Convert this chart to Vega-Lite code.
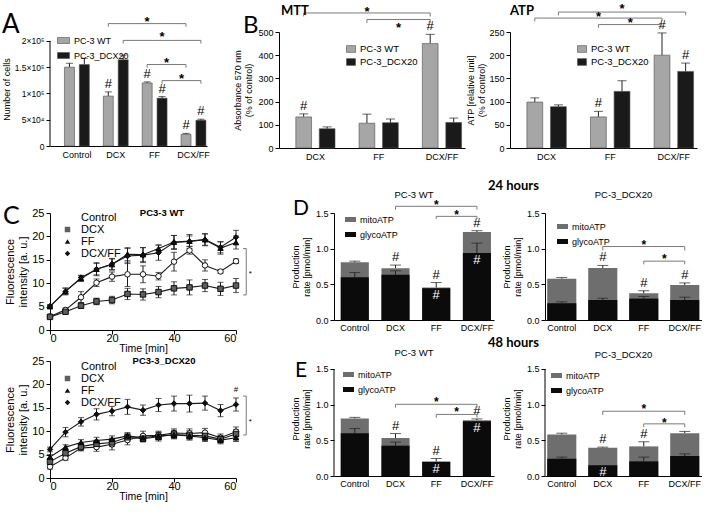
{
"$schema": "https://vega.github.io/schema/vega-lite/v6.json",
"background": "white",
"padding": {"left": 0, "top": 2, "right": 0, "bottom": 0},
"config": {
 "font": "Liberation Sans",
 "view": {"stroke": null},
 "axis": {"domainColor": "#000", "domainWidth": 1, "tickColor": "#000", "tickWidth": 1, "tickSize": 4, "labelColor": "#000", "titleColor": "#000", "labelFont": "Liberation Sans", "titleFont": "Liberation Sans", "titleFontWeight": "normal", "grid": false, "labelFontSize": 9, "titleFontSize": 9, "labelPadding": 2, "titlePadding": 4, "labelOverlap": false},
 "legend": {"labelFont": "Liberation Sans", "labelColor": "#000"},
 "title": {"font": "Liberation Sans", "color": "#000", "offset": 0},
 "text": {"font": "Liberation Sans", "color": "#000"}
},
"datasets": {
 "A": [
  {"cond":"Control","grp":"PC-3 WT","v":150000,"hi":157500,"sig":""},
  {"cond":"Control","grp":"PC-3_DCX20","v":155000,"hi":167000,"sig":""},
  {"cond":"DCX","grp":"PC-3 WT","v":95000,"hi":103000,"sig":"#"},
  {"cond":"DCX","grp":"PC-3_DCX20","v":164000,"hi":173000,"sig":""},
  {"cond":"FF","grp":"PC-3 WT","v":120000,"hi":122000,"sig":"#"},
  {"cond":"FF","grp":"PC-3_DCX20","v":91000,"hi":94000,"sig":"#"},
  {"cond":"DCX/FF","grp":"PC-3 WT","v":22000,"hi":24000,"sig":"#"},
  {"cond":"DCX/FF","grp":"PC-3_DCX20","v":49000,"hi":51000,"sig":"#"}
 ],
 "Abr": [
  {"x1":0.808,"x2":2.808,"y":233000,"yt":227000,"xs":1.808,"ys":242600},
  {"x1":1.192,"x2":3.192,"y":201000,"yt":195000,"xs":2.192,"ys":213900},
  {"x1":1.808,"x2":2.808,"y":155100,"yt":149000,"xs":2.308,"ys":164100},
  {"x1":2.192,"x2":3.192,"y":124500,"yt":118500,"xs":2.692,"ys":133500}
 ],
 "MTT": [
  {"cond":"DCX","grp":"PC-3 WT","v":134,"hi":147,"sig":"#"},
  {"cond":"DCX","grp":"PC-3_DCX20","v":83,"hi":91,"sig":""},
  {"cond":"FF","grp":"PC-3 WT","v":107,"hi":146,"sig":""},
  {"cond":"FF","grp":"PC-3_DCX20","v":109,"hi":125,"sig":""},
  {"cond":"DCX/FF","grp":"PC-3 WT","v":450,"hi":490,"sig":"#"},
  {"cond":"DCX/FF","grp":"PC-3_DCX20","v":110,"hi":129,"sig":""}
 ],
 "MTTbr": [
  {"x1":-0.186,"x2":1.814,"y":582,"yt":567,"xs":0.814,"ys":600},
  {"x1":0.814,"x2":1.814,"y":554,"yt":539,"xs":1.314,"ys":531}
 ],
 "ATP": [
  {"cond":"DCX","grp":"PC-3 WT","v":99,"hi":108,"sig":""},
  {"cond":"DCX","grp":"PC-3_DCX20","v":89,"hi":93,"sig":""},
  {"cond":"FF","grp":"PC-3 WT","v":67,"hi":79,"sig":"#"},
  {"cond":"FF","grp":"PC-3_DCX20","v":122,"hi":145,"sig":""},
  {"cond":"DCX/FF","grp":"PC-3 WT","v":200,"hi":248,"sig":"#"},
  {"cond":"DCX/FF","grp":"PC-3_DCX20","v":165,"hi":183,"sig":"#"}
 ],
 "ATPbr": [
  {"x1":0.186,"x2":2.186,"y":293,"yt":286,"xs":1.186,"ys":307},
  {"x1":-0.186,"x2":1.814,"y":280,"yt":273,"xs":0.814,"ys":289},
  {"x1":0.814,"x2":1.814,"y":266,"yt":259,"xs":1.314,"ys":276}
 ],
 "C1": [
  {"t":0,"grp":"Control","v":2.9,"e":0.3},{"t":5,"grp":"Control","v":4.3,"e":0.4},{"t":10,"grp":"Control","v":7.0,"e":1.2},{"t":15,"grp":"Control","v":10.1,"e":0.8},{"t":20,"grp":"Control","v":11.4,"e":1.0},{"t":25,"grp":"Control","v":11.9,"e":2.6},{"t":30,"grp":"Control","v":11.9,"e":1.8},{"t":35,"grp":"Control","v":11.5,"e":0.8},{"t":40,"grp":"Control","v":14.6,"e":2.0},{"t":45,"grp":"Control","v":17.0,"e":0.8},{"t":50,"grp":"Control","v":13.8,"e":1.2},{"t":55,"grp":"Control","v":12.5,"e":0.4},{"t":60,"grp":"Control","v":14.7,"e":0.5},
  {"t":0,"grp":"DCX","v":2.8,"e":0.3},{"t":5,"grp":"DCX","v":3.9,"e":0.4},{"t":10,"grp":"DCX","v":5.2,"e":0.6},{"t":15,"grp":"DCX","v":6.1,"e":0.7},{"t":20,"grp":"DCX","v":6.4,"e":0.8},{"t":25,"grp":"DCX","v":7.7,"e":1.2},{"t":30,"grp":"DCX","v":7.6,"e":1.2},{"t":35,"grp":"DCX","v":8.1,"e":1.2},{"t":40,"grp":"DCX","v":8.9,"e":1.4},{"t":45,"grp":"DCX","v":9.1,"e":1.6},{"t":50,"grp":"DCX","v":9.5,"e":1.3},{"t":55,"grp":"DCX","v":8.8,"e":1.4},{"t":60,"grp":"DCX","v":9.5,"e":1.5},
  {"t":0,"grp":"FF","v":5.0,"e":0.3},{"t":5,"grp":"FF","v":8.3,"e":0.7},{"t":10,"grp":"FF","v":11.0,"e":0.6},{"t":15,"grp":"FF","v":13.0,"e":1.2},{"t":20,"grp":"FF","v":14.0,"e":1.2},{"t":25,"grp":"FF","v":16.2,"e":1.4},{"t":30,"grp":"FF","v":16.1,"e":1.5},{"t":35,"grp":"FF","v":17.4,"e":0.8},{"t":40,"grp":"FF","v":18.8,"e":1.4},{"t":45,"grp":"FF","v":19.0,"e":1.1},{"t":50,"grp":"FF","v":19.3,"e":1.2},{"t":55,"grp":"FF","v":17.5,"e":1.3},{"t":60,"grp":"FF","v":18.7,"e":1.4},
  {"t":0,"grp":"DCX/FF","v":5.1,"e":0.3},{"t":5,"grp":"DCX/FF","v":8.2,"e":0.7},{"t":10,"grp":"DCX/FF","v":11.2,"e":0.5},{"t":15,"grp":"DCX/FF","v":13.0,"e":1.4},{"t":20,"grp":"DCX/FF","v":14.1,"e":1.2},{"t":25,"grp":"DCX/FF","v":15.8,"e":1.6},{"t":30,"grp":"DCX/FF","v":16.0,"e":1.6},{"t":35,"grp":"DCX/FF","v":16.5,"e":1.6},{"t":40,"grp":"DCX/FF","v":18.7,"e":1.5},{"t":45,"grp":"DCX/FF","v":18.9,"e":1.5},{"t":50,"grp":"DCX/FF","v":19.3,"e":1.3},{"t":55,"grp":"DCX/FF","v":17.7,"e":1.2},{"t":60,"grp":"DCX/FF","v":19.8,"e":1.5}
 ],
 "C2": [
  {"t":0,"grp":"Control","v":2.4,"e":0.5},{"t":5,"grp":"Control","v":4.3,"e":0.5},{"t":10,"grp":"Control","v":6.4,"e":0.6},{"t":15,"grp":"Control","v":6.6,"e":0.9},{"t":20,"grp":"Control","v":7.2,"e":1.2},{"t":25,"grp":"Control","v":8.1,"e":1.0},{"t":30,"grp":"Control","v":9.0,"e":1.0},{"t":35,"grp":"Control","v":9.1,"e":0.9},{"t":40,"grp":"Control","v":9.6,"e":0.9},{"t":45,"grp":"Control","v":9.5,"e":1.0},{"t":50,"grp":"Control","v":9.7,"e":0.9},{"t":55,"grp":"Control","v":8.6,"e":0.8},{"t":60,"grp":"Control","v":9.9,"e":1.0},
  {"t":0,"grp":"DCX","v":3.5,"e":0.6},{"t":5,"grp":"DCX","v":5.3,"e":0.5},{"t":10,"grp":"DCX","v":6.7,"e":0.7},{"t":15,"grp":"DCX","v":7.3,"e":0.8},{"t":20,"grp":"DCX","v":7.6,"e":0.9},{"t":25,"grp":"DCX","v":8.7,"e":0.8},{"t":30,"grp":"DCX","v":8.4,"e":0.7},{"t":35,"grp":"DCX","v":8.8,"e":0.9},{"t":40,"grp":"DCX","v":9.3,"e":0.9},{"t":45,"grp":"DCX","v":9.1,"e":1.0},{"t":50,"grp":"DCX","v":9.0,"e":0.9},{"t":55,"grp":"DCX","v":8.3,"e":0.8},{"t":60,"grp":"DCX","v":9.4,"e":0.9},
  {"t":0,"grp":"FF","v":4.5,"e":0.5},{"t":5,"grp":"FF","v":6.6,"e":0.5},{"t":10,"grp":"FF","v":7.6,"e":0.6},{"t":15,"grp":"FF","v":8.0,"e":0.7},{"t":20,"grp":"FF","v":8.3,"e":0.7},{"t":25,"grp":"FF","v":9.0,"e":0.7},{"t":30,"grp":"FF","v":8.6,"e":0.7},{"t":35,"grp":"FF","v":9.0,"e":0.8},{"t":40,"grp":"FF","v":9.2,"e":0.8},{"t":45,"grp":"FF","v":9.0,"e":0.8},{"t":50,"grp":"FF","v":8.6,"e":0.8},{"t":55,"grp":"FF","v":8.1,"e":0.8},{"t":60,"grp":"FF","v":8.6,"e":0.8},
  {"t":0,"grp":"DCX/FF","v":6.1,"e":0.5},{"t":5,"grp":"DCX/FF","v":9.8,"e":1.0},{"t":10,"grp":"DCX/FF","v":12.0,"e":0.9},{"t":15,"grp":"DCX/FF","v":13.6,"e":1.2},{"t":20,"grp":"DCX/FF","v":14.3,"e":1.0},{"t":25,"grp":"DCX/FF","v":15.2,"e":1.6},{"t":30,"grp":"DCX/FF","v":14.5,"e":1.1},{"t":35,"grp":"DCX/FF","v":15.6,"e":1.4},{"t":40,"grp":"DCX/FF","v":15.9,"e":1.6},{"t":45,"grp":"DCX/FF","v":15.9,"e":1.8},{"t":50,"grp":"DCX/FF","v":16.0,"e":1.5},{"t":55,"grp":"DCX/FF","v":14.4,"e":1.3},{"t":60,"grp":"DCX/FF","v":15.7,"e":1.4}
 ],
 "C1br": [{"xb":63.3,"xt":62.3,"ya":7.5,"yb":17.4,"xs":64.6,"ys":12.4,"s":"*"}],
 "C2br": [{"xb":63.3,"xt":62.3,"ya":9.2,"yb":17.5,"xs":64.6,"ys":12.4,"s":"*"}],
 "C2sig": [{"t":60,"v":18.0,"s":"#"}],
 "Dl": [
  {"cond":"Control","total":0.81,"thi":0.825,"glyco":0.60,"ghi":0.665,"sig":"","sin":""},
  {"cond":"DCX","total":0.727,"thi":0.77,"glyco":0.633,"ghi":0.69,"sig":"#","sin":""},
  {"cond":"FF","total":0.455,"thi":0.525,"glyco":0.445,"ghi":null,"sig":"#","sin":"#"},
  {"cond":"DCX/FF","total":1.233,"thi":1.252,"glyco":0.938,"ghi":1.078,"sig":"#","sin":"#"}
 ],
 "Dr": [
  {"cond":"Control","total":0.58,"thi":0.595,"glyco":0.235,"ghi":0.255,"sig":"","sin":""},
  {"cond":"DCX","total":0.73,"thi":0.765,"glyco":0.28,"ghi":0.305,"sig":"#","sin":""},
  {"cond":"FF","total":0.375,"thi":0.41,"glyco":0.30,"ghi":0.33,"sig":"#","sin":""},
  {"cond":"DCX/FF","total":0.49,"thi":0.52,"glyco":0.28,"ghi":0.32,"sig":"#","sin":""}
 ],
 "El": [
  {"cond":"Control","total":0.807,"thi":0.822,"glyco":0.60,"ghi":0.665,"sig":"","sin":""},
  {"cond":"DCX","total":0.533,"thi":0.595,"glyco":0.425,"ghi":0.475,"sig":"#","sin":""},
  {"cond":"FF","total":0.203,"thi":0.245,"glyco":0.198,"ghi":null,"sig":"#","sin":"#"},
  {"cond":"DCX/FF","total":0.783,"thi":0.80,"glyco":0.768,"ghi":null,"sig":"#","sin":"#"}
 ],
 "Er": [
  {"cond":"Control","total":0.582,"thi":0.60,"glyco":0.242,"ghi":0.265,"sig":"","sin":""},
  {"cond":"DCX","total":0.396,"thi":0.405,"glyco":0.149,"ghi":null,"sig":"#","sin":"#"},
  {"cond":"FF","total":0.415,"thi":0.48,"glyco":0.205,"ghi":0.265,"sig":"#","sin":""},
  {"cond":"DCX/FF","total":0.60,"thi":0.625,"glyco":0.28,"ghi":0.31,"sig":"","sin":""}
 ],
 "Dlbr": [{"x1":1,"x2":3,"y":1.594,"yt":1.547,"xs":2,"ys":1.65},{"x1":2,"x2":3,"y":1.453,"yt":1.416,"xs":2.5,"ys":1.52}],
 "Drbr": [{"x1":1,"x2":3,"y":1.03,"yt":0.975,"xs":2,"ys":1.09},{"x1":2,"x2":3,"y":0.825,"yt":0.78,"xs":2.5,"ys":0.9}],
 "Elbr": [{"x1":1,"x2":3,"y":1.005,"yt":0.958,"xs":2,"ys":1.075},{"x1":2,"x2":3,"y":0.863,"yt":0.816,"xs":2.5,"ys":0.934}],
 "Erbr": [{"x1":1,"x2":3,"y":0.908,"yt":0.857,"xs":2,"ys":0.978},{"x1":2,"x2":3,"y":0.731,"yt":0.685,"xs":2.5,"ys":0.79}],
 "none": [],
 "one": [{}]
},
"resolve": {"scale": {"fill": "independent", "shape": "independent", "xOffset": "independent"}, "legend": {"fill": "independent", "shape": "independent"}},
"spacing": -17,
"vconcat": [
 {"bounds": "flush", "spacing": 0,
  "resolve": {"scale": {"fill": "independent", "shape": "independent", "xOffset": "independent"}, "legend": {"fill": "independent", "shape": "independent"}},
  "hconcat": [
  {"width": 50, "height": 165, "data": {"name": "none"}, "mark": "point"},
  {"width": 157, "height": 114,
   "title": {"text": "A", "anchor": "start", "frame": "group", "font": "Lato", "fontSize": 26, "fontWeight": "normal", "dx": -48, "dy": 26},
   "resolve": {"scale": {"x": "independent"}},
   "layer": [
    {"data": {"name": "A"},
     "encoding": {
      "x": {"field": "cond", "type": "nominal", "sort": ["Control","DCX","FF","DCX/FF"], "scale": {"paddingInner": 0.36, "paddingOuter": 0.2, "align": 0.93}, "axis": {"title": null, "labelAngle": 0, "ticks": false, "domain": true, "labelPadding": 4, "labelFontSize": 9}},
      "xOffset": {"field": "grp", "type": "nominal", "sort": ["PC-3 WT","PC-3_DCX20"], "scale": {"paddingInner": 0.33, "paddingOuter": 0}}
     },
     "layer": [
      {"mark": {"type": "rule", "color": "#222"}, "encoding": {"y": {"field": "v", "type": "quantitative", "scale": {"domain": [0,217000], "nice": false}, "axis": {"title": "Number of cells", "domain": false, "values": [0,50000,100000,150000,200000], "labelExpr": "datum.value == 0 ? '0' : datum.value == 50000 ? '5×10⁴' : datum.value == 100000 ? '1×10⁵' : datum.value == 150000 ? '1.5×10⁵' : '2×10⁵'", "labelFontSize": 8.5, "titlePadding": 3, "labelOverlap": false}}, "y2": {"field": "hi"}}},
      {"mark": {"type": "tick", "color": "#222", "orient": "horizontal", "size": 7, "thickness": 1}, "encoding": {"y": {"field": "hi", "type": "quantitative", "scale": {"domain": [0,217000], "nice": false}, "axis": {"title": "Number of cells", "domain": false, "values": [0,50000,100000,150000,200000], "labelExpr": "datum.value == 0 ? '0' : datum.value == 50000 ? '5×10⁴' : datum.value == 100000 ? '1×10⁵' : datum.value == 150000 ? '1.5×10⁵' : '2×10⁵'", "labelFontSize": 8.5, "titlePadding": 3, "labelOverlap": false}}}},
      {"mark": {"type": "bar", "stroke": "#4d4d4d", "strokeWidth": 0.6}, "encoding": {"y": {"field": "v", "type": "quantitative", "scale": {"domain": [0,217000], "nice": false}, "axis": {"title": "Number of cells", "domain": false, "values": [0,50000,100000,150000,200000], "labelExpr": "datum.value == 0 ? '0' : datum.value == 50000 ? '5×10⁴' : datum.value == 100000 ? '1×10⁵' : datum.value == 150000 ? '1.5×10⁵' : '2×10⁵'", "labelFontSize": 8.5, "titlePadding": 3, "labelOverlap": false}},
        "fill": {"field": "grp", "type": "nominal", "scale": {"domain": ["PC-3 WT","PC-3_DCX20"], "range": ["#a6a6a6","#1a1a1a"]}, "legend": {"title": null, "orient": "none", "legendX": 7, "legendY": 2, "symbolType": "M-1,-0.5H1V0.5H-1Z", "symbolSize": 144, "labelFontSize": 9, "rowPadding": 3, "labelOffset": 4, "symbolStrokeColor": "#4d4d4d", "symbolStrokeWidth": 0.6}}}},
      {"mark": {"type": "text", "baseline": "bottom", "dy": -1, "fontSize": 13}, "encoding": {"y": {"field": "hi", "type": "quantitative", "scale": {"domain": [0,217000], "nice": false}, "axis": {"title": "Number of cells", "domain": false, "values": [0,50000,100000,150000,200000], "labelExpr": "datum.value == 0 ? '0' : datum.value == 50000 ? '5×10⁴' : datum.value == 100000 ? '1×10⁵' : datum.value == 150000 ? '1.5×10⁵' : '2×10⁵'", "labelFontSize": 8.5, "titlePadding": 3, "labelOverlap": false}}, "text": {"field": "sig"}}}
     ]},
    {"data": {"name": "Abr"},
     "encoding": {"y": {"field": "y", "type": "quantitative", "scale": {"domain": [0,217000], "nice": false}, "axis": {"title": "Number of cells", "domain": false, "values": [0,50000,100000,150000,200000], "labelExpr": "datum.value == 0 ? '0' : datum.value == 50000 ? '5×10⁴' : datum.value == 100000 ? '1×10⁵' : datum.value == 150000 ? '1.5×10⁵' : '2×10⁵'", "labelFontSize": 8.5, "titlePadding": 3, "labelOverlap": false}}},
     "layer": [
      {"mark": {"type": "rule", "color": "#7a7a7a"}, "encoding": {"x": {"field": "x1", "type": "quantitative", "scale": {"domain": [-0.692,3.348], "nice": false, "zero": false}, "axis": null}, "x2": {"field": "x2"}}},
      {"mark": {"type": "rule", "color": "#7a7a7a"}, "encoding": {"x": {"field": "x1", "type": "quantitative", "scale": {"domain": [-0.692,3.348], "nice": false, "zero": false}, "axis": null}, "y2": {"field": "yt"}}},
      {"mark": {"type": "rule", "color": "#7a7a7a"}, "encoding": {"x": {"field": "x2", "type": "quantitative", "scale": {"domain": [-0.692,3.348], "nice": false, "zero": false}, "axis": null}, "y2": {"field": "yt"}}},
      {"mark": {"type": "text", "text": "*", "fontSize": 13, "fontWeight": "bold", "baseline": "middle", "dy": 3}, "encoding": {"x": {"field": "xs", "type": "quantitative", "scale": {"domain": [-0.692,3.348], "nice": false, "zero": false}, "axis": null}, "y": {"field": "ys", "type": "quantitative", "scale": {"domain": [0,217000], "nice": false}, "axis": {"title": "Number of cells", "domain": false, "values": [0,50000,100000,150000,200000], "labelExpr": "datum.value == 0 ? '0' : datum.value == 50000 ? '5×10⁴' : datum.value == 100000 ? '1×10⁵' : datum.value == 150000 ? '1.5×10⁵' : '2×10⁵'", "labelFontSize": 8.5, "titlePadding": 3, "labelOverlap": false}}}}
     ]},
    {"data": {"name": "one"}, "mark": {"type": "rule", "color": "#000", "strokeWidth": 1}, "encoding": {"x": {"datum": -0.692, "type": "quantitative", "scale": {"domain": [-0.692,3.348], "nice": false, "zero": false}, "axis": null}, "y": {"datum": 0, "type": "quantitative", "scale": {"domain": [0,217000], "nice": false}, "axis": {"title": "Number of cells", "domain": false, "values": [0,50000,100000,150000,200000], "labelExpr": "datum.value == 0 ? '0' : datum.value == 50000 ? '5×10⁴' : datum.value == 100000 ? '1×10⁵' : datum.value == 150000 ? '1.5×10⁵' : '2×10⁵'", "labelFontSize": 8.5, "titlePadding": 3, "labelOverlap": false}}, "y2": {"datum": 200000}}}
   ]},
  {"width": 72, "height": 116, "data": {"name": "none"}, "mark": "point",
   "title": {"text": "B", "anchor": "start", "frame": "group", "font": "Lato", "fontSize": 24, "fontWeight": "normal", "dx": 36, "dy": 10}},
  {"width": 186, "height": 116,
   "title": {"text": "MTT", "anchor": "start", "frame": "group", "font": "Lato", "fontSize": 13, "fontWeight": "bold", "dx": 2, "dy": 16},
   "resolve": {"scale": {"x": "independent"}},
   "layer": [
    {"data": {"name": "MTT"},
     "encoding": {
      "x": {"field": "cond", "type": "nominal", "sort": ["DCX","FF","DCX/FF"], "scale": {"paddingInner": 0.38, "paddingOuter": 0.16, "align": 0.83}, "axis": {"title": null, "labelAngle": 0, "ticks": false, "domain": true, "labelPadding": 4}},
      "xOffset": {"field": "grp", "type": "nominal", "sort": ["PC-3 WT","PC-3_DCX20"], "scale": {"paddingInner": 0.33, "paddingOuter": 0}}
     },
     "layer": [
      {"mark": {"type": "rule", "color": "#222"}, "encoding": {"y": {"field": "v", "type": "quantitative", "scale": {"domain": [0,500], "nice": false}, "axis": {"title": ["Absorbance 570 nm","(% of control)"], "values": [0,100,200,300,400,500], "labelOverlap": false}}, "y2": {"field": "hi"}}},
      {"mark": {"type": "tick", "color": "#222", "orient": "horizontal", "size": 9, "thickness": 1}, "encoding": {"y": {"field": "hi", "type": "quantitative", "scale": {"domain": [0,500], "nice": false}, "axis": {"title": ["Absorbance 570 nm","(% of control)"], "values": [0,100,200,300,400,500], "labelOverlap": false}}}},
      {"mark": {"type": "bar", "stroke": "#4d4d4d", "strokeWidth": 0.6}, "encoding": {"y": {"field": "v", "type": "quantitative", "scale": {"domain": [0,500], "nice": false}, "axis": {"title": ["Absorbance 570 nm","(% of control)"], "values": [0,100,200,300,400,500], "labelOverlap": false}},
        "fill": {"field": "grp", "type": "nominal", "scale": {"domain": ["PC-3 WT","PC-3_DCX20"], "range": ["#a6a6a6","#1a1a1a"]}, "legend": {"title": null, "orient": "none", "legendX": 67, "legendY": 12, "symbolType": "M-1,-0.75H1V0.75H-1Z", "symbolSize": 81, "labelFontSize": 9.5, "rowPadding": 3, "labelOffset": 4, "symbolStrokeColor": "#4d4d4d", "symbolStrokeWidth": 0.6}}}},
      {"mark": {"type": "text", "baseline": "bottom", "dy": -1, "fontSize": 13}, "encoding": {"y": {"field": "hi", "type": "quantitative", "scale": {"domain": [0,500], "nice": false}, "axis": {"title": ["Absorbance 570 nm","(% of control)"], "values": [0,100,200,300,400,500], "labelOverlap": false}}, "text": {"field": "sig"}}}
     ]},
    {"data": {"name": "MTTbr"},
     "encoding": {"y": {"field": "y", "type": "quantitative", "scale": {"domain": [0,500], "nice": false}, "axis": {"title": ["Absorbance 570 nm","(% of control)"], "values": [0,100,200,300,400,500], "labelOverlap": false}}},
     "layer": [
      {"mark": {"type": "rule", "color": "#7a7a7a"}, "encoding": {"x": {"field": "x1", "type": "quantitative", "scale": {"domain": [-0.576,2.364], "nice": false, "zero": false}, "axis": null}, "x2": {"field": "x2"}}},
      {"mark": {"type": "rule", "color": "#7a7a7a"}, "encoding": {"x": {"field": "x1", "type": "quantitative", "scale": {"domain": [-0.576,2.364], "nice": false, "zero": false}, "axis": null}, "y2": {"field": "yt"}}},
      {"mark": {"type": "rule", "color": "#7a7a7a"}, "encoding": {"x": {"field": "x2", "type": "quantitative", "scale": {"domain": [-0.576,2.364], "nice": false, "zero": false}, "axis": null}, "y2": {"field": "yt"}}},
      {"mark": {"type": "text", "text": "*", "fontSize": 13, "fontWeight": "bold", "baseline": "middle", "dy": 3}, "encoding": {"x": {"field": "xs", "type": "quantitative", "scale": {"domain": [-0.576,2.364], "nice": false, "zero": false}, "axis": null}, "y": {"field": "ys", "type": "quantitative", "scale": {"domain": [0,500], "nice": false}, "axis": {"title": ["Absorbance 570 nm","(% of control)"], "values": [0,100,200,300,400,500], "labelOverlap": false}}}}
     ]}
   ]},
  {"width": 45, "height": 116, "data": {"name": "none"}, "mark": "point"},
  {"width": 187, "height": 116,
   "title": {"text": "ATP", "anchor": "start", "frame": "group", "font": "Lato", "fontSize": 13, "fontWeight": "bold", "dx": 0, "dy": 19},
   "resolve": {"scale": {"x": "independent"}},
   "layer": [
    {"data": {"name": "ATP"},
     "encoding": {
      "x": {"field": "cond", "type": "nominal", "sort": ["DCX","FF","DCX/FF"], "scale": {"paddingInner": 0.38, "paddingOuter": 0.16, "align": 0.83}, "axis": {"title": null, "labelAngle": 0, "ticks": false, "domain": true, "labelPadding": 4}},
      "xOffset": {"field": "grp", "type": "nominal", "sort": ["PC-3 WT","PC-3_DCX20"], "scale": {"paddingInner": 0.33, "paddingOuter": 0}}
     },
     "layer": [
      {"mark": {"type": "rule", "color": "#222"}, "encoding": {"y": {"field": "v", "type": "quantitative", "scale": {"domain": [0,250], "nice": false}, "axis": {"title": ["ATP [relative unit]","(% of control)"], "values": [0,50,100,150,200,250], "titlePadding": 2, "labelOverlap": false}}, "y2": {"field": "hi"}}},
      {"mark": {"type": "tick", "color": "#222", "orient": "horizontal", "size": 9, "thickness": 1}, "encoding": {"y": {"field": "hi", "type": "quantitative", "scale": {"domain": [0,250], "nice": false}, "axis": {"title": ["ATP [relative unit]","(% of control)"], "values": [0,50,100,150,200,250], "titlePadding": 2, "labelOverlap": false}}}},
      {"mark": {"type": "bar", "stroke": "#4d4d4d", "strokeWidth": 0.6}, "encoding": {"y": {"field": "v", "type": "quantitative", "scale": {"domain": [0,250], "nice": false}, "axis": {"title": ["ATP [relative unit]","(% of control)"], "values": [0,50,100,150,200,250], "titlePadding": 2, "labelOverlap": false}},
        "fill": {"field": "grp", "type": "nominal", "scale": {"domain": ["PC-3 WT","PC-3_DCX20"], "range": ["#a6a6a6","#1a1a1a"]}, "legend": {"title": null, "orient": "none", "legendX": 67, "legendY": 12, "symbolType": "M-1,-0.75H1V0.75H-1Z", "symbolSize": 81, "labelFontSize": 9.5, "rowPadding": 3, "labelOffset": 4, "symbolStrokeColor": "#4d4d4d", "symbolStrokeWidth": 0.6}}}},
      {"mark": {"type": "text", "baseline": "bottom", "dy": -1, "fontSize": 13}, "encoding": {"y": {"field": "hi", "type": "quantitative", "scale": {"domain": [0,250], "nice": false}, "axis": {"title": ["ATP [relative unit]","(% of control)"], "values": [0,50,100,150,200,250], "titlePadding": 2, "labelOverlap": false}}, "text": {"field": "sig"}}}
     ]},
    {"data": {"name": "ATPbr"},
     "encoding": {"y": {"field": "y", "type": "quantitative", "scale": {"domain": [0,250], "nice": false}, "axis": {"title": ["ATP [relative unit]","(% of control)"], "values": [0,50,100,150,200,250], "titlePadding": 2, "labelOverlap": false}}},
     "layer": [
      {"mark": {"type": "rule", "color": "#7a7a7a"}, "encoding": {"x": {"field": "x1", "type": "quantitative", "scale": {"domain": [-0.576,2.364], "nice": false, "zero": false}, "axis": null}, "x2": {"field": "x2"}}},
      {"mark": {"type": "rule", "color": "#7a7a7a"}, "encoding": {"x": {"field": "x1", "type": "quantitative", "scale": {"domain": [-0.576,2.364], "nice": false, "zero": false}, "axis": null}, "y2": {"field": "yt"}}},
      {"mark": {"type": "rule", "color": "#7a7a7a"}, "encoding": {"x": {"field": "x2", "type": "quantitative", "scale": {"domain": [-0.576,2.364], "nice": false, "zero": false}, "axis": null}, "y2": {"field": "yt"}}},
      {"mark": {"type": "text", "text": "*", "fontSize": 13, "fontWeight": "bold", "baseline": "middle", "dy": 3}, "encoding": {"x": {"field": "xs", "type": "quantitative", "scale": {"domain": [-0.576,2.364], "nice": false, "zero": false}, "axis": null}, "y": {"field": "ys", "type": "quantitative", "scale": {"domain": [0,250], "nice": false}, "axis": {"title": ["ATP [relative unit]","(% of control)"], "values": [0,50,100,150,200,250], "titlePadding": 2, "labelOverlap": false}}}}
     ]}
   ]}
 ]},
 {"bounds": "flush", "spacing": 0,
  "resolve": {"scale": {"fill": "independent", "shape": "independent", "xOffset": "independent"}, "legend": {"fill": "independent", "shape": "independent"}},
  "hconcat": [
  {"width": 50, "height": 117, "data": {"name": "none"}, "mark": "point",
   "title": {"text": "C", "anchor": "start", "frame": "group", "font": "Lato", "fontSize": 25, "fontWeight": "normal", "dx": 3, "dy": 20}},
  {"width": 186, "height": 117,
   "title": {"text": "PC3-3 WT", "anchor": "middle", "frame": "group", "fontSize": 9.5, "fontWeight": "bold", "dx": 19, "offset": -10},
   "encoding": {
    "x": {"field": "t", "type": "quantitative", "scale": {"domain": [0,60], "nice": false}, "axis": {"title": "Time [min]", "values": [0,20,40,60], "labelFontSize": 11, "titleFontSize": 10.5, "labelPadding": -2, "titlePadding": 0}},
    "y": {"field": "v", "type": "quantitative", "scale": {"domain": [0,25], "nice": false}, "axis": {"title": ["Fluorescence","intensity [a. u.]"], "values": [0,5,10,15,20,25], "labelFontSize": 11, "titleFontSize": 11, "titlePadding": 3, "labelOverlap": false}}
   },
   "layer": [
    {"data": {"name": "C1"},
     "layer": [
      {"mark": {"type": "line", "color": "#1a1a1a", "strokeWidth": 1.1}, "encoding": {"detail": {"field": "grp"}}},
      {"mark": {"type": "errorbar", "color": "#1a1a1a", "ticks": {"size": 6}}, "encoding": {"yError": {"field": "e"}}},
      {"mark": {"type": "point", "filled": true, "size": 30, "stroke": "#000", "strokeWidth": 0.9, "opacity": 1}, "encoding": {
        "shape": {"field": "grp", "type": "nominal", "scale": {"domain": ["Control","DCX","FF","DCX/FF"], "range": ["circle","square","triangle-up","diamond"]}, "legend": {"title": null, "orient": "none", "legendX": 12, "legendY": -1, "labelFontSize": 11, "symbolSize": 30, "rowPadding": 0, "symbolStrokeColor": "#000", "symbolStrokeWidth": 1, "labelOffset": 8}},
        "fill": {"field": "grp", "type": "nominal", "scale": {"domain": ["Control","DCX","FF","DCX/FF"], "range": ["#ffffff","#5e5e5e","#111111","#111111"]}, "legend": {"title": null, "orient": "none", "legendX": 12, "legendY": -1, "labelFontSize": 11, "symbolSize": 30, "rowPadding": 0, "symbolStrokeColor": "#000", "symbolStrokeWidth": 1, "labelOffset": 8}}}}
     ]},
    {"data": {"name": "C1br"},
     "layer": [
      {"mark": {"type": "rule", "color": "#555", "strokeWidth": 0.8}, "encoding": {"x": {"field": "xb", "type": "quantitative", "scale": {"domain": [0,60], "nice": false}, "axis": {"title": "Time [min]", "values": [0,20,40,60], "labelFontSize": 11, "titleFontSize": 10.5, "labelPadding": -2, "titlePadding": 0}}, "y": {"field": "ya", "type": "quantitative", "scale": {"domain": [0,25], "nice": false}, "axis": {"title": ["Fluorescence","intensity [a. u.]"], "values": [0,5,10,15,20,25], "labelFontSize": 11, "titleFontSize": 11, "titlePadding": 3, "labelOverlap": false}}, "y2": {"field": "yb"}}},
      {"mark": {"type": "rule", "color": "#555", "strokeWidth": 0.8}, "encoding": {"x": {"field": "xt", "type": "quantitative", "scale": {"domain": [0,60], "nice": false}, "axis": {"title": "Time [min]", "values": [0,20,40,60], "labelFontSize": 11, "titleFontSize": 10.5, "labelPadding": -2, "titlePadding": 0}}, "x2": {"field": "xb"}, "y": {"field": "ya", "type": "quantitative", "scale": {"domain": [0,25], "nice": false}, "axis": {"title": ["Fluorescence","intensity [a. u.]"], "values": [0,5,10,15,20,25], "labelFontSize": 11, "titleFontSize": 11, "titlePadding": 3, "labelOverlap": false}}}},
      {"mark": {"type": "rule", "color": "#555", "strokeWidth": 0.8}, "encoding": {"x": {"field": "xt", "type": "quantitative", "scale": {"domain": [0,60], "nice": false}, "axis": {"title": "Time [min]", "values": [0,20,40,60], "labelFontSize": 11, "titleFontSize": 10.5, "labelPadding": -2, "titlePadding": 0}}, "x2": {"field": "xb"}, "y": {"field": "yb", "type": "quantitative", "scale": {"domain": [0,25], "nice": false}, "axis": {"title": ["Fluorescence","intensity [a. u.]"], "values": [0,5,10,15,20,25], "labelFontSize": 11, "titleFontSize": 11, "titlePadding": 3, "labelOverlap": false}}}},
      {"mark": {"type": "text", "fontSize": 8, "baseline": "middle", "dy": 2}, "encoding": {"x": {"field": "xs", "type": "quantitative", "scale": {"domain": [0,60], "nice": false}, "axis": {"title": "Time [min]", "values": [0,20,40,60], "labelFontSize": 11, "titleFontSize": 10.5, "labelPadding": -2, "titlePadding": 0}}, "y": {"field": "ys", "type": "quantitative", "scale": {"domain": [0,25], "nice": false}, "axis": {"title": ["Fluorescence","intensity [a. u.]"], "values": [0,5,10,15,20,25], "labelFontSize": 11, "titleFontSize": 11, "titlePadding": 3, "labelOverlap": false}}, "text": {"field": "s"}}}
     ]}
   ]},
  {"width": 98, "height": 107, "data": {"name": "none"}, "mark": "point",
   "title": {"text": "D", "anchor": "start", "frame": "group", "font": "Lato", "fontSize": 21, "fontWeight": "normal", "dx": 57, "dy": 10}},
  {"width": 160, "height": 107,
   "title": {"text": "PC-3 WT", "anchor": "middle", "frame": "group", "fontSize": 9.5, "fontWeight": "normal", "dy": 4},
   "resolve": {"scale": {"x": "independent"}},
   "layer": [
    {"data": {"name": "Dl"},
     "encoding": {"x": {"field": "cond", "type": "nominal", "sort": ["Control","DCX","FF","DCX/FF"], "scale": {"paddingInner": 0.31, "paddingOuter": 0.12, "align": 0.69}, "axis": {"title": null, "labelAngle": 0, "ticks": false, "domain": true, "labelPadding": 3}}},
     "layer": [
      {"mark": {"type": "bar"}, "encoding": {"y": {"field": "total", "type": "quantitative", "scale": {"domain": [0,1.5], "nice": false}, "axis": {"title": ["Production","rate [pmol/min]"], "values": [0,0.5,1,1.5], "format": ".1f", "labelOverlap": false}},
        "fill": {"datum": "mitoATP", "type": "nominal", "scale": {"domain": ["mitoATP","glycoATP"], "range": ["#6e6e6e","#0b0b0b"]}, "legend": {"title": null, "orient": "none", "legendX": 11, "legendY": 1, "symbolType": "M-1,-0.45H1V0.45H-1Z", "symbolSize": 121, "labelFontSize": 9, "rowPadding": 4, "labelOffset": 4, "symbolStrokeWidth": 0}}}},
      {"mark": {"type": "bar"}, "encoding": {"y": {"field": "glyco", "type": "quantitative", "scale": {"domain": [0,1.5], "nice": false}, "axis": {"title": ["Production","rate [pmol/min]"], "values": [0,0.5,1,1.5], "format": ".1f", "labelOverlap": false}}, "fill": {"datum": "glycoATP", "type": "nominal"}}},
      {"mark": {"type": "rule", "color": "#222"}, "encoding": {"y": {"field": "total", "type": "quantitative", "scale": {"domain": [0,1.5], "nice": false}, "axis": {"title": ["Production","rate [pmol/min]"], "values": [0,0.5,1,1.5], "format": ".1f", "labelOverlap": false}}, "y2": {"field": "thi"}}},
      {"mark": {"type": "tick", "color": "#222", "orient": "horizontal", "size": 11, "thickness": 1}, "encoding": {"y": {"field": "thi", "type": "quantitative", "scale": {"domain": [0,1.5], "nice": false}, "axis": {"title": ["Production","rate [pmol/min]"], "values": [0,0.5,1,1.5], "format": ".1f", "labelOverlap": false}}}},
      {"transform": [{"filter": "isValid(datum.ghi)"}], "mark": {"type": "rule", "color": "#222"}, "encoding": {"y": {"field": "glyco", "type": "quantitative", "scale": {"domain": [0,1.5], "nice": false}, "axis": {"title": ["Production","rate [pmol/min]"], "values": [0,0.5,1,1.5], "format": ".1f", "labelOverlap": false}}, "y2": {"field": "ghi"}}},
      {"transform": [{"filter": "isValid(datum.ghi)"}], "mark": {"type": "tick", "color": "#222", "orient": "horizontal", "size": 11, "thickness": 1}, "encoding": {"y": {"field": "ghi", "type": "quantitative", "scale": {"domain": [0,1.5], "nice": false}, "axis": {"title": ["Production","rate [pmol/min]"], "values": [0,0.5,1,1.5], "format": ".1f", "labelOverlap": false}}}},
      {"mark": {"type": "text", "baseline": "bottom", "dy": -1, "fontSize": 13}, "encoding": {"y": {"field": "thi", "type": "quantitative", "scale": {"domain": [0,1.5], "nice": false}, "axis": {"title": ["Production","rate [pmol/min]"], "values": [0,0.5,1,1.5], "format": ".1f", "labelOverlap": false}}, "text": {"field": "sig"}}},
      {"mark": {"type": "text", "baseline": "top", "dy": 1, "fontSize": 13, "color": "#ffffff"}, "encoding": {"y": {"field": "glyco", "type": "quantitative", "scale": {"domain": [0,1.5], "nice": false}, "axis": {"title": ["Production","rate [pmol/min]"], "values": [0,0.5,1,1.5], "format": ".1f", "labelOverlap": false}}, "text": {"field": "sin"}}}
     ]},
    {"data": {"name": "Dlbr"},
     "encoding": {"y": {"field": "y", "type": "quantitative", "scale": {"domain": [0,1.5], "nice": false}, "axis": {"title": ["Production","rate [pmol/min]"], "values": [0,0.5,1,1.5], "format": ".1f", "labelOverlap": false}}},
     "layer": [
      {"mark": {"type": "rule", "color": "#7a7a7a"}, "encoding": {"x": {"field": "x1", "type": "quantitative", "scale": {"domain": [-0.511,3.419], "nice": false, "zero": false}, "axis": null}, "x2": {"field": "x2"}}},
      {"mark": {"type": "rule", "color": "#7a7a7a"}, "encoding": {"x": {"field": "x1", "type": "quantitative", "scale": {"domain": [-0.511,3.419], "nice": false, "zero": false}, "axis": null}, "y2": {"field": "yt"}}},
      {"mark": {"type": "rule", "color": "#7a7a7a"}, "encoding": {"x": {"field": "x2", "type": "quantitative", "scale": {"domain": [-0.511,3.419], "nice": false, "zero": false}, "axis": null}, "y2": {"field": "yt"}}},
      {"mark": {"type": "text", "text": "*", "fontSize": 12, "fontWeight": "bold", "baseline": "middle", "dy": 3}, "encoding": {"x": {"field": "xs", "type": "quantitative", "scale": {"domain": [-0.511,3.419], "nice": false, "zero": false}, "axis": null}, "y": {"field": "ys", "type": "quantitative", "scale": {"domain": [0,1.5], "nice": false}, "axis": {"title": ["Production","rate [pmol/min]"], "values": [0,0.5,1,1.5], "format": ".1f", "labelOverlap": false}}}}
     ]}
   ]},
  {"width": 51, "height": 107, "data": {"name": "none"}, "mark": "point",
   "title": {"text": "24 hours", "anchor": "start", "frame": "group", "font": "Lato", "fontSize": 13, "fontWeight": "bold", "dx": -6, "dy": -16}},
  {"width": 157, "height": 107,
   "title": {"text": "PC-3_DCX20", "anchor": "middle", "frame": "group", "fontSize": 9.5, "fontWeight": "normal", "dy": -6},
   "resolve": {"scale": {"x": "independent"}},
   "layer": [
    {"data": {"name": "Dr"},
     "encoding": {"x": {"field": "cond", "type": "nominal", "sort": ["Control","DCX","FF","DCX/FF"], "scale": {"paddingInner": 0.29, "paddingOuter": 0.06, "align": 0.45}, "axis": {"title": null, "labelAngle": 0, "ticks": false, "domain": true, "labelPadding": 3}}},
     "layer": [
      {"mark": {"type": "bar"}, "encoding": {"y": {"field": "total", "type": "quantitative", "scale": {"domain": [0,1.5], "nice": false}, "axis": {"title": ["Production","rate [pmol/min]"], "values": [0,0.5,1,1.5], "format": ".1f", "labelOverlap": false}},
        "fill": {"datum": "mitoATP", "type": "nominal", "scale": {"domain": ["mitoATP","glycoATP"], "range": ["#6e6e6e","#0b0b0b"]}, "legend": {"title": null, "orient": "none", "legendX": 12, "legendY": 8, "symbolType": "M-1,-0.45H1V0.45H-1Z", "symbolSize": 121, "labelFontSize": 9, "rowPadding": 4, "labelOffset": 4, "symbolStrokeWidth": 0}}}},
      {"mark": {"type": "bar"}, "encoding": {"y": {"field": "glyco", "type": "quantitative", "scale": {"domain": [0,1.5], "nice": false}, "axis": {"title": ["Production","rate [pmol/min]"], "values": [0,0.5,1,1.5], "format": ".1f", "labelOverlap": false}}, "fill": {"datum": "glycoATP", "type": "nominal"}}},
      {"mark": {"type": "rule", "color": "#222"}, "encoding": {"y": {"field": "total", "type": "quantitative", "scale": {"domain": [0,1.5], "nice": false}, "axis": {"title": ["Production","rate [pmol/min]"], "values": [0,0.5,1,1.5], "format": ".1f", "labelOverlap": false}}, "y2": {"field": "thi"}}},
      {"mark": {"type": "tick", "color": "#222", "orient": "horizontal", "size": 11, "thickness": 1}, "encoding": {"y": {"field": "thi", "type": "quantitative", "scale": {"domain": [0,1.5], "nice": false}, "axis": {"title": ["Production","rate [pmol/min]"], "values": [0,0.5,1,1.5], "format": ".1f", "labelOverlap": false}}}},
      {"transform": [{"filter": "isValid(datum.ghi)"}], "mark": {"type": "rule", "color": "#222"}, "encoding": {"y": {"field": "glyco", "type": "quantitative", "scale": {"domain": [0,1.5], "nice": false}, "axis": {"title": ["Production","rate [pmol/min]"], "values": [0,0.5,1,1.5], "format": ".1f", "labelOverlap": false}}, "y2": {"field": "ghi"}}},
      {"transform": [{"filter": "isValid(datum.ghi)"}], "mark": {"type": "tick", "color": "#222", "orient": "horizontal", "size": 11, "thickness": 1}, "encoding": {"y": {"field": "ghi", "type": "quantitative", "scale": {"domain": [0,1.5], "nice": false}, "axis": {"title": ["Production","rate [pmol/min]"], "values": [0,0.5,1,1.5], "format": ".1f", "labelOverlap": false}}}},
      {"mark": {"type": "text", "baseline": "bottom", "dy": -1, "fontSize": 13}, "encoding": {"y": {"field": "thi", "type": "quantitative", "scale": {"domain": [0,1.5], "nice": false}, "axis": {"title": ["Production","rate [pmol/min]"], "values": [0,0.5,1,1.5], "format": ".1f", "labelOverlap": false}}, "text": {"field": "sig"}}},
      {"mark": {"type": "text", "baseline": "top", "dy": 1, "fontSize": 13, "color": "#ffffff"}, "encoding": {"y": {"field": "glyco", "type": "quantitative", "scale": {"domain": [0,1.5], "nice": false}, "axis": {"title": ["Production","rate [pmol/min]"], "values": [0,0.5,1,1.5], "format": ".1f", "labelOverlap": false}}, "text": {"field": "sin"}}}
     ]},
    {"data": {"name": "Drbr"},
     "encoding": {"y": {"field": "y", "type": "quantitative", "scale": {"domain": [0,1.5], "nice": false}, "axis": {"title": ["Production","rate [pmol/min]"], "values": [0,0.5,1,1.5], "format": ".1f", "labelOverlap": false}}},
     "layer": [
      {"mark": {"type": "rule", "color": "#7a7a7a"}, "encoding": {"x": {"field": "x1", "type": "quantitative", "scale": {"domain": [-0.409,3.421], "nice": false, "zero": false}, "axis": null}, "x2": {"field": "x2"}}},
      {"mark": {"type": "rule", "color": "#7a7a7a"}, "encoding": {"x": {"field": "x1", "type": "quantitative", "scale": {"domain": [-0.409,3.421], "nice": false, "zero": false}, "axis": null}, "y2": {"field": "yt"}}},
      {"mark": {"type": "rule", "color": "#7a7a7a"}, "encoding": {"x": {"field": "x2", "type": "quantitative", "scale": {"domain": [-0.409,3.421], "nice": false, "zero": false}, "axis": null}, "y2": {"field": "yt"}}},
      {"mark": {"type": "text", "text": "*", "fontSize": 12, "fontWeight": "bold", "baseline": "middle", "dy": 3}, "encoding": {"x": {"field": "xs", "type": "quantitative", "scale": {"domain": [-0.409,3.421], "nice": false, "zero": false}, "axis": null}, "y": {"field": "ys", "type": "quantitative", "scale": {"domain": [0,1.5], "nice": false}, "axis": {"title": ["Production","rate [pmol/min]"], "values": [0,0.5,1,1.5], "format": ".1f", "labelOverlap": false}}}}
     ]}
   ]}
 ]},
 {"bounds": "flush", "spacing": 0,
  "resolve": {"scale": {"fill": "independent", "shape": "independent", "xOffset": "independent"}, "legend": {"fill": "independent", "shape": "independent"}},
  "hconcat": [
  {"width": 50, "height": 117, "data": {"name": "none"}, "mark": "point"},
  {"width": 186, "height": 117,
   "title": {"text": "PC3-3_DCX20", "anchor": "middle", "frame": "group", "fontSize": 9.5, "fontWeight": "bold", "dx": 21, "offset": -10},
   "encoding": {
    "x": {"field": "t", "type": "quantitative", "scale": {"domain": [0,60], "nice": false}, "axis": {"title": "Time [min]", "values": [0,20,40,60], "labelFontSize": 11, "titleFontSize": 10.5, "labelPadding": -2, "titlePadding": 0}},
    "y": {"field": "v", "type": "quantitative", "scale": {"domain": [0,25], "nice": false}, "axis": {"title": ["Fluorescence","intensity [a. u.]"], "values": [0,5,10,15,20,25], "labelFontSize": 11, "titleFontSize": 11, "titlePadding": 3, "labelOverlap": false}}
   },
   "layer": [
    {"data": {"name": "C2"},
     "layer": [
      {"mark": {"type": "line", "color": "#1a1a1a", "strokeWidth": 1.1}, "encoding": {"detail": {"field": "grp"}}},
      {"mark": {"type": "errorbar", "color": "#1a1a1a", "ticks": {"size": 6}}, "encoding": {"yError": {"field": "e"}}},
      {"mark": {"type": "point", "filled": true, "size": 30, "stroke": "#000", "strokeWidth": 0.9, "opacity": 1}, "encoding": {
        "shape": {"field": "grp", "type": "nominal", "scale": {"domain": ["Control","DCX","FF","DCX/FF"], "range": ["circle","square","triangle-up","diamond"]}, "legend": {"title": null, "orient": "none", "legendX": 12, "legendY": 0, "labelFontSize": 11, "symbolSize": 30, "rowPadding": 0, "symbolStrokeColor": "#000", "symbolStrokeWidth": 1, "labelOffset": 8}},
        "fill": {"field": "grp", "type": "nominal", "scale": {"domain": ["Control","DCX","FF","DCX/FF"], "range": ["#ffffff","#5e5e5e","#111111","#111111"]}, "legend": {"title": null, "orient": "none", "legendX": 12, "legendY": 0, "labelFontSize": 11, "symbolSize": 30, "rowPadding": 0, "symbolStrokeColor": "#000", "symbolStrokeWidth": 1, "labelOffset": 8}}}}
     ]},
    {"data": {"name": "C2br"},
     "layer": [
      {"mark": {"type": "rule", "color": "#555", "strokeWidth": 0.8}, "encoding": {"x": {"field": "xb", "type": "quantitative", "scale": {"domain": [0,60], "nice": false}, "axis": {"title": "Time [min]", "values": [0,20,40,60], "labelFontSize": 11, "titleFontSize": 10.5, "labelPadding": -2, "titlePadding": 0}}, "y": {"field": "ya", "type": "quantitative", "scale": {"domain": [0,25], "nice": false}, "axis": {"title": ["Fluorescence","intensity [a. u.]"], "values": [0,5,10,15,20,25], "labelFontSize": 11, "titleFontSize": 11, "titlePadding": 3, "labelOverlap": false}}, "y2": {"field": "yb"}}},
      {"mark": {"type": "rule", "color": "#555", "strokeWidth": 0.8}, "encoding": {"x": {"field": "xt", "type": "quantitative", "scale": {"domain": [0,60], "nice": false}, "axis": {"title": "Time [min]", "values": [0,20,40,60], "labelFontSize": 11, "titleFontSize": 10.5, "labelPadding": -2, "titlePadding": 0}}, "x2": {"field": "xb"}, "y": {"field": "ya", "type": "quantitative", "scale": {"domain": [0,25], "nice": false}, "axis": {"title": ["Fluorescence","intensity [a. u.]"], "values": [0,5,10,15,20,25], "labelFontSize": 11, "titleFontSize": 11, "titlePadding": 3, "labelOverlap": false}}}},
      {"mark": {"type": "rule", "color": "#555", "strokeWidth": 0.8}, "encoding": {"x": {"field": "xt", "type": "quantitative", "scale": {"domain": [0,60], "nice": false}, "axis": {"title": "Time [min]", "values": [0,20,40,60], "labelFontSize": 11, "titleFontSize": 10.5, "labelPadding": -2, "titlePadding": 0}}, "x2": {"field": "xb"}, "y": {"field": "yb", "type": "quantitative", "scale": {"domain": [0,25], "nice": false}, "axis": {"title": ["Fluorescence","intensity [a. u.]"], "values": [0,5,10,15,20,25], "labelFontSize": 11, "titleFontSize": 11, "titlePadding": 3, "labelOverlap": false}}}},
      {"mark": {"type": "text", "fontSize": 8, "baseline": "middle", "dy": 2}, "encoding": {"x": {"field": "xs", "type": "quantitative", "scale": {"domain": [0,60], "nice": false}, "axis": {"title": "Time [min]", "values": [0,20,40,60], "labelFontSize": 11, "titleFontSize": 10.5, "labelPadding": -2, "titlePadding": 0}}, "y": {"field": "ys", "type": "quantitative", "scale": {"domain": [0,25], "nice": false}, "axis": {"title": ["Fluorescence","intensity [a. u.]"], "values": [0,5,10,15,20,25], "labelFontSize": 11, "titleFontSize": 11, "titlePadding": 3, "labelOverlap": false}}, "text": {"field": "s"}}}
     ]},
    {"data": {"name": "C2sig"},
     "mark": {"type": "text", "fontSize": 8, "baseline": "bottom"},
     "encoding": {"text": {"field": "s"}}}
   ]},
  {"width": 98, "height": 115, "data": {"name": "none"}, "mark": "point",
   "title": {"text": "E", "anchor": "start", "frame": "group", "font": "Lato", "fontSize": 21, "fontWeight": "normal", "dx": 59, "dy": 23.5}},
  {"width": 160, "height": 115,
   "title": {"text": "PC-3 WT", "anchor": "middle", "frame": "group", "fontSize": 9.5, "fontWeight": "normal", "dy": 0},
   "resolve": {"scale": {"x": "independent"}},
   "layer": [
    {"data": {"name": "El"},
     "encoding": {"x": {"field": "cond", "type": "nominal", "sort": ["Control","DCX","FF","DCX/FF"], "scale": {"paddingInner": 0.31, "paddingOuter": 0.12, "align": 0.69}, "axis": {"title": null, "labelAngle": 0, "ticks": false, "domain": true, "labelPadding": 3}}},
     "layer": [
      {"mark": {"type": "bar"}, "encoding": {"y": {"field": "total", "type": "quantitative", "scale": {"domain": [0,1.612], "nice": false}, "axis": {"title": ["Production","rate [pmol/min]"], "domain": false, "values": [0,0.5,1,1.5], "format": ".1f", "labelOverlap": false}},
        "fill": {"datum": "mitoATP", "type": "nominal", "scale": {"domain": ["mitoATP","glycoATP"], "range": ["#6e6e6e","#0b0b0b"]}, "legend": {"title": null, "orient": "none", "legendX": 9, "legendY": 8, "symbolType": "M-1,-0.45H1V0.45H-1Z", "symbolSize": 121, "labelFontSize": 9, "rowPadding": 4, "labelOffset": 4, "symbolStrokeWidth": 0}}}},
      {"mark": {"type": "bar"}, "encoding": {"y": {"field": "glyco", "type": "quantitative", "scale": {"domain": [0,1.612], "nice": false}, "axis": {"title": ["Production","rate [pmol/min]"], "domain": false, "values": [0,0.5,1,1.5], "format": ".1f", "labelOverlap": false}}, "fill": {"datum": "glycoATP", "type": "nominal"}}},
      {"mark": {"type": "rule", "color": "#222"}, "encoding": {"y": {"field": "total", "type": "quantitative", "scale": {"domain": [0,1.612], "nice": false}, "axis": {"title": ["Production","rate [pmol/min]"], "domain": false, "values": [0,0.5,1,1.5], "format": ".1f", "labelOverlap": false}}, "y2": {"field": "thi"}}},
      {"mark": {"type": "tick", "color": "#222", "orient": "horizontal", "size": 11, "thickness": 1}, "encoding": {"y": {"field": "thi", "type": "quantitative", "scale": {"domain": [0,1.612], "nice": false}, "axis": {"title": ["Production","rate [pmol/min]"], "domain": false, "values": [0,0.5,1,1.5], "format": ".1f", "labelOverlap": false}}}},
      {"transform": [{"filter": "isValid(datum.ghi)"}], "mark": {"type": "rule", "color": "#222"}, "encoding": {"y": {"field": "glyco", "type": "quantitative", "scale": {"domain": [0,1.612], "nice": false}, "axis": {"title": ["Production","rate [pmol/min]"], "domain": false, "values": [0,0.5,1,1.5], "format": ".1f", "labelOverlap": false}}, "y2": {"field": "ghi"}}},
      {"transform": [{"filter": "isValid(datum.ghi)"}], "mark": {"type": "tick", "color": "#222", "orient": "horizontal", "size": 11, "thickness": 1}, "encoding": {"y": {"field": "ghi", "type": "quantitative", "scale": {"domain": [0,1.612], "nice": false}, "axis": {"title": ["Production","rate [pmol/min]"], "domain": false, "values": [0,0.5,1,1.5], "format": ".1f", "labelOverlap": false}}}},
      {"mark": {"type": "text", "baseline": "bottom", "dy": -1, "fontSize": 13}, "encoding": {"y": {"field": "thi", "type": "quantitative", "scale": {"domain": [0,1.612], "nice": false}, "axis": {"title": ["Production","rate [pmol/min]"], "domain": false, "values": [0,0.5,1,1.5], "format": ".1f", "labelOverlap": false}}, "text": {"field": "sig"}}},
      {"mark": {"type": "text", "baseline": "top", "dy": 1, "fontSize": 13, "color": "#ffffff"}, "encoding": {"y": {"field": "glyco", "type": "quantitative", "scale": {"domain": [0,1.612], "nice": false}, "axis": {"title": ["Production","rate [pmol/min]"], "domain": false, "values": [0,0.5,1,1.5], "format": ".1f", "labelOverlap": false}}, "text": {"field": "sin"}}}
     ]},
    {"data": {"name": "Elbr"},
     "encoding": {"y": {"field": "y", "type": "quantitative", "scale": {"domain": [0,1.612], "nice": false}, "axis": {"title": ["Production","rate [pmol/min]"], "domain": false, "values": [0,0.5,1,1.5], "format": ".1f", "labelOverlap": false}}},
     "layer": [
      {"mark": {"type": "rule", "color": "#7a7a7a"}, "encoding": {"x": {"field": "x1", "type": "quantitative", "scale": {"domain": [-0.511,3.419], "nice": false, "zero": false}, "axis": null}, "x2": {"field": "x2"}}},
      {"mark": {"type": "rule", "color": "#7a7a7a"}, "encoding": {"x": {"field": "x1", "type": "quantitative", "scale": {"domain": [-0.511,3.419], "nice": false, "zero": false}, "axis": null}, "y2": {"field": "yt"}}},
      {"mark": {"type": "rule", "color": "#7a7a7a"}, "encoding": {"x": {"field": "x2", "type": "quantitative", "scale": {"domain": [-0.511,3.419], "nice": false, "zero": false}, "axis": null}, "y2": {"field": "yt"}}},
      {"mark": {"type": "text", "text": "*", "fontSize": 12, "fontWeight": "bold", "baseline": "middle", "dy": 3}, "encoding": {"x": {"field": "xs", "type": "quantitative", "scale": {"domain": [-0.511,3.419], "nice": false, "zero": false}, "axis": null}, "y": {"field": "ys", "type": "quantitative", "scale": {"domain": [0,1.612], "nice": false}, "axis": {"title": ["Production","rate [pmol/min]"], "domain": false, "values": [0,0.5,1,1.5], "format": ".1f", "labelOverlap": false}}}}
     ]},
    {"data": {"name": "one"}, "mark": {"type": "rule", "color": "#000", "strokeWidth": 1}, "encoding": {"x": {"datum": -0.511, "type": "quantitative", "scale": {"domain": [-0.511,3.419], "nice": false, "zero": false}, "axis": null}, "y": {"datum": 0, "type": "quantitative", "scale": {"domain": [0,1.612], "nice": false}, "axis": {"title": ["Production","rate [pmol/min]"], "domain": false, "values": [0,0.5,1,1.5], "format": ".1f", "labelOverlap": false}}, "y2": {"datum": 1.5}}}
   ]},
  {"width": 51, "height": 115, "data": {"name": "none"}, "mark": "point",
   "title": {"text": "48 hours", "anchor": "start", "frame": "group", "font": "Lato", "fontSize": 13, "fontWeight": "bold", "dx": -6, "dy": -7}},
  {"width": 157, "height": 115,
   "title": {"text": "PC-3_DCX20", "anchor": "middle", "frame": "group", "fontSize": 9.5, "fontWeight": "normal", "dy": 2},
   "resolve": {"scale": {"x": "independent"}},
   "layer": [
    {"data": {"name": "Er"},
     "encoding": {"x": {"field": "cond", "type": "nominal", "sort": ["Control","DCX","FF","DCX/FF"], "scale": {"paddingInner": 0.29, "paddingOuter": 0.06, "align": 0.45}, "axis": {"title": null, "labelAngle": 0, "ticks": false, "domain": true, "labelPadding": 3}}},
     "layer": [
      {"mark": {"type": "bar"}, "encoding": {"y": {"field": "total", "type": "quantitative", "scale": {"domain": [0,1.612], "nice": false}, "axis": {"title": ["Production","rate [pmol/min]"], "domain": false, "values": [0,0.5,1,1.5], "format": ".1f", "labelOverlap": false}},
        "fill": {"datum": "mitoATP", "type": "nominal", "scale": {"domain": ["mitoATP","glycoATP"], "range": ["#6e6e6e","#0b0b0b"]}, "legend": {"title": null, "orient": "none", "legendX": 6, "legendY": 9, "symbolType": "M-1,-0.45H1V0.45H-1Z", "symbolSize": 121, "labelFontSize": 9, "rowPadding": 4, "labelOffset": 4, "symbolStrokeWidth": 0}}}},
      {"mark": {"type": "bar"}, "encoding": {"y": {"field": "glyco", "type": "quantitative", "scale": {"domain": [0,1.612], "nice": false}, "axis": {"title": ["Production","rate [pmol/min]"], "domain": false, "values": [0,0.5,1,1.5], "format": ".1f", "labelOverlap": false}}, "fill": {"datum": "glycoATP", "type": "nominal"}}},
      {"mark": {"type": "rule", "color": "#222"}, "encoding": {"y": {"field": "total", "type": "quantitative", "scale": {"domain": [0,1.612], "nice": false}, "axis": {"title": ["Production","rate [pmol/min]"], "domain": false, "values": [0,0.5,1,1.5], "format": ".1f", "labelOverlap": false}}, "y2": {"field": "thi"}}},
      {"mark": {"type": "tick", "color": "#222", "orient": "horizontal", "size": 11, "thickness": 1}, "encoding": {"y": {"field": "thi", "type": "quantitative", "scale": {"domain": [0,1.612], "nice": false}, "axis": {"title": ["Production","rate [pmol/min]"], "domain": false, "values": [0,0.5,1,1.5], "format": ".1f", "labelOverlap": false}}}},
      {"transform": [{"filter": "isValid(datum.ghi)"}], "mark": {"type": "rule", "color": "#222"}, "encoding": {"y": {"field": "glyco", "type": "quantitative", "scale": {"domain": [0,1.612], "nice": false}, "axis": {"title": ["Production","rate [pmol/min]"], "domain": false, "values": [0,0.5,1,1.5], "format": ".1f", "labelOverlap": false}}, "y2": {"field": "ghi"}}},
      {"transform": [{"filter": "isValid(datum.ghi)"}], "mark": {"type": "tick", "color": "#222", "orient": "horizontal", "size": 11, "thickness": 1}, "encoding": {"y": {"field": "ghi", "type": "quantitative", "scale": {"domain": [0,1.612], "nice": false}, "axis": {"title": ["Production","rate [pmol/min]"], "domain": false, "values": [0,0.5,1,1.5], "format": ".1f", "labelOverlap": false}}}},
      {"mark": {"type": "text", "baseline": "bottom", "dy": -1, "fontSize": 13}, "encoding": {"y": {"field": "thi", "type": "quantitative", "scale": {"domain": [0,1.612], "nice": false}, "axis": {"title": ["Production","rate [pmol/min]"], "domain": false, "values": [0,0.5,1,1.5], "format": ".1f", "labelOverlap": false}}, "text": {"field": "sig"}}},
      {"mark": {"type": "text", "baseline": "top", "dy": 1, "fontSize": 13, "color": "#ffffff"}, "encoding": {"y": {"field": "glyco", "type": "quantitative", "scale": {"domain": [0,1.612], "nice": false}, "axis": {"title": ["Production","rate [pmol/min]"], "domain": false, "values": [0,0.5,1,1.5], "format": ".1f", "labelOverlap": false}}, "text": {"field": "sin"}}}
     ]},
    {"data": {"name": "Erbr"},
     "encoding": {"y": {"field": "y", "type": "quantitative", "scale": {"domain": [0,1.612], "nice": false}, "axis": {"title": ["Production","rate [pmol/min]"], "domain": false, "values": [0,0.5,1,1.5], "format": ".1f", "labelOverlap": false}}},
     "layer": [
      {"mark": {"type": "rule", "color": "#7a7a7a"}, "encoding": {"x": {"field": "x1", "type": "quantitative", "scale": {"domain": [-0.409,3.421], "nice": false, "zero": false}, "axis": null}, "x2": {"field": "x2"}}},
      {"mark": {"type": "rule", "color": "#7a7a7a"}, "encoding": {"x": {"field": "x1", "type": "quantitative", "scale": {"domain": [-0.409,3.421], "nice": false, "zero": false}, "axis": null}, "y2": {"field": "yt"}}},
      {"mark": {"type": "rule", "color": "#7a7a7a"}, "encoding": {"x": {"field": "x2", "type": "quantitative", "scale": {"domain": [-0.409,3.421], "nice": false, "zero": false}, "axis": null}, "y2": {"field": "yt"}}},
      {"mark": {"type": "text", "text": "*", "fontSize": 12, "fontWeight": "bold", "baseline": "middle", "dy": 3}, "encoding": {"x": {"field": "xs", "type": "quantitative", "scale": {"domain": [-0.409,3.421], "nice": false, "zero": false}, "axis": null}, "y": {"field": "ys", "type": "quantitative", "scale": {"domain": [0,1.612], "nice": false}, "axis": {"title": ["Production","rate [pmol/min]"], "domain": false, "values": [0,0.5,1,1.5], "format": ".1f", "labelOverlap": false}}}}
     ]},
    {"data": {"name": "one"}, "mark": {"type": "rule", "color": "#000", "strokeWidth": 1}, "encoding": {"x": {"datum": -0.409, "type": "quantitative", "scale": {"domain": [-0.409,3.421], "nice": false, "zero": false}, "axis": null}, "y": {"datum": 0, "type": "quantitative", "scale": {"domain": [0,1.612], "nice": false}, "axis": {"title": ["Production","rate [pmol/min]"], "domain": false, "values": [0,0.5,1,1.5], "format": ".1f", "labelOverlap": false}}, "y2": {"datum": 1.5}}}
   ]}
 ]}
]
}
